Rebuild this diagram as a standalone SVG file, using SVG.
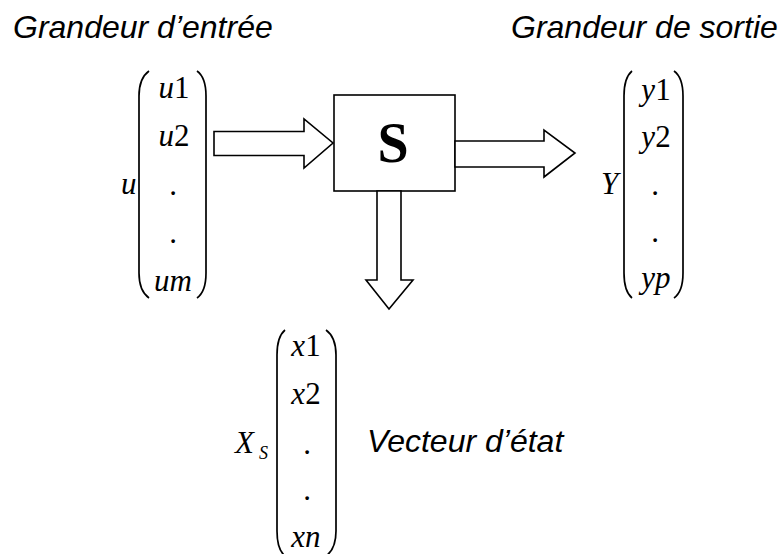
<svg xmlns="http://www.w3.org/2000/svg" width="779" height="554" viewBox="0 0 779 554">
  <style>
    .caption { font-family: "Liberation Sans", Arial, sans-serif; font-style: italic; font-size: 32px; fill: #000; }
    .math { font-family: "Liberation Serif", "Times New Roman", serif; font-style: italic; font-size: 31px; fill: #000; }
    .num { font-style: normal; }
    .sub { font-family: "Liberation Serif", "Times New Roman", serif; font-style: italic; font-size: 18px; fill: #000; }
    .paren { fill: none; stroke: #000; stroke-width: 1.7; }
    .shape { fill: #fff; stroke: #000; stroke-width: 1.6; stroke-linejoin: miter; }
    .sys { font-family: "Liberation Serif", "Times New Roman", serif; font-weight: bold; font-size: 56px; fill: #000; }
  </style>

  <!-- Captions -->
  <text class="caption" x="13" y="38">Grandeur d’entrée</text>
  <text class="caption" x="511" y="38">Grandeur de sortie</text>

  <!-- System block -->
  <g id="system">
    <rect class="shape" x="334" y="95" width="121" height="96"/>
    <text class="sys" x="393" y="162" text-anchor="middle">S</text>
  </g>

  <!-- Block arrows -->
  <g id="connectors">
    <polygon class="shape" points="214,131.5 304,131.5 304,119 333,143 304,168 304,155.5 214,155.5"/>
    <polygon class="shape" points="455,141 544,141 544,130 575,153 544,177 544,167 455,167"/>
    <polygon class="shape" points="377,191 377,280 366,280 389,309 413,280 401,280 401,191"/>
  </g>

  <!-- Input vector u -->
  <g id="input-vector">
    <text class="math" x="121" y="194">u</text>
    <path class="paren" d="M149,71 C142,76 139,84 139,96 L139,273 C139,285 142,293 149,298"/>
    <path class="paren" d="M197,71 C204,76 206,84 206,96 L206,273 C206,285 204,293 197,298"/>
    <text class="math" text-anchor="middle" x="174" y="98">u<tspan class="num">1</tspan></text>
    <text class="math" text-anchor="middle" x="174" y="146">u<tspan class="num">2</tspan></text>
    <text class="math num" text-anchor="middle" x="173" y="195">.</text>
    <text class="math num" text-anchor="middle" x="173" y="243">.</text>
    <text class="math" text-anchor="middle" x="173" y="291">um</text>
  </g>

  <!-- Output vector Y -->
  <g id="output-vector">
    <text class="math" x="601" y="194">Y</text>
    <path class="paren" d="M632,71 C626,76 624,84 624,96 L624,273 C624,285 626,293 632,298"/>
    <path class="paren" d="M674,71 C681,76 683,84 683,96 L683,273 C683,285 681,293 674,298"/>
    <text class="math" text-anchor="middle" x="656" y="100">y<tspan class="num">1</tspan></text>
    <text class="math" text-anchor="middle" x="656" y="147">y<tspan class="num">2</tspan></text>
    <text class="math num" text-anchor="middle" x="655" y="195">.</text>
    <text class="math num" text-anchor="middle" x="655" y="242">.</text>
    <text class="math" text-anchor="middle" x="656" y="288">yp</text>
  </g>

  <!-- State vector Xs -->
  <g id="state-vector">
    <text class="math" x="235" y="453">X</text>
    <text class="sub" x="259" y="459">S</text>
    <path class="paren" d="M285,330 C279,335 277,343 277,355 L277,531 C277,543 279,551 285,556"/>
    <path class="paren" d="M326,330 C333,335 336,343 336,355 L336,531 C336,543 333,551 326,556"/>
    <text class="math" text-anchor="middle" x="306" y="356">x<tspan class="num">1</tspan></text>
    <text class="math" text-anchor="middle" x="306" y="404">x<tspan class="num">2</tspan></text>
    <text class="math num" text-anchor="middle" x="307" y="454">.</text>
    <text class="math num" text-anchor="middle" x="307" y="500">.</text>
    <text class="math" text-anchor="middle" x="306" y="547">xn</text>
    <text class="caption" x="367" y="452">Vecteur d’état</text>
  </g>
</svg>
